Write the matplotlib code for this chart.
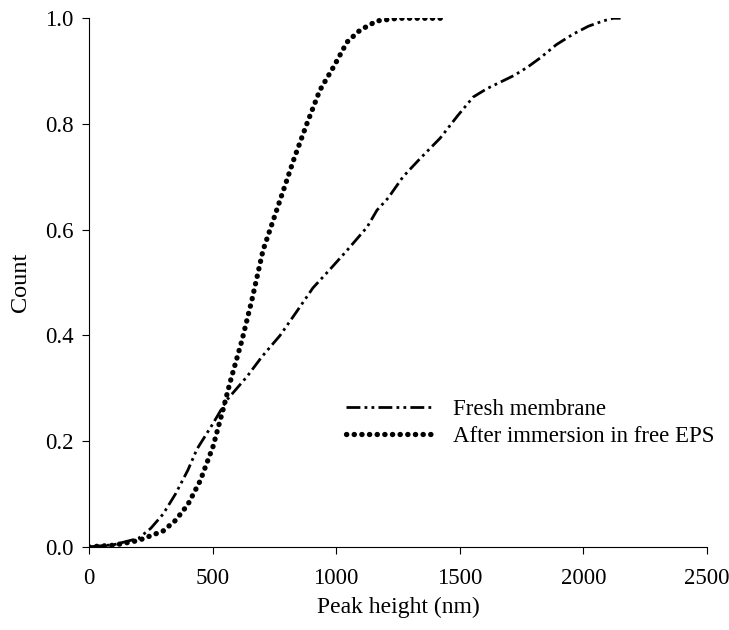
import matplotlib
matplotlib.use("Agg")
import matplotlib.pyplot as plt
import numpy as np

plt.rcParams['font.family'] = ['Liberation Serif', 'DejaVu Serif']

fresh_x = [0, 100, 200, 250, 300, 350, 400, 437, 500, 558, 639, 700, 773, 840, 906, 975, 1044, 1125, 1165, 1210, 1270, 1340, 1420, 1490, 1554, 1610, 1663, 1720, 1772, 1825, 1890, 1958, 2020, 2080, 2120, 2150]
fresh_y = [0.0, 0.004, 0.016, 0.035, 0.062, 0.10, 0.145, 0.185, 0.232, 0.278, 0.322, 0.36, 0.40, 0.445, 0.49, 0.525, 0.561, 0.605, 0.637, 0.66, 0.70, 0.735, 0.773, 0.815, 0.851, 0.867, 0.879, 0.892, 0.907, 0.925, 0.95, 0.97, 0.985, 0.995, 1.0, 1.0]

eps_x = [0, 100, 200, 300, 350, 400, 450, 502, 542, 570, 619, 659, 704, 773, 830, 881, 934, 988, 1044, 1090, 1125, 1165, 1250, 1350, 1428]
eps_y = [0.0, 0.003, 0.012, 0.03, 0.05, 0.08, 0.125, 0.19, 0.259, 0.31, 0.391, 0.467, 0.561, 0.656, 0.735, 0.80, 0.864, 0.907, 0.955, 0.975, 0.985, 0.995, 1.0, 1.0, 1.0]

fig = plt.figure(figsize=(7.29, 6.30), dpi=100)
ax = fig.add_axes([0.122, 0.132, 0.848, 0.839])

ax.plot(fresh_x, fresh_y, color='black', lw=2.0,
        linestyle=(0, (5, 1.5, 1, 1.5, 1, 1.5)), label='Fresh membrane')
ax.plot(eps_x, eps_y, color='black', lw=3.8,
        linestyle=(0, (0.05, 1.4)), dash_capstyle='round', label='After immersion in free EPS')

ax.set_xlim(0, 2500)
ax.set_ylim(0, 1.0)
ax.set_xticks(np.arange(0, 2501, 500))
ax.set_yticks(np.arange(0, 1.01, 0.2))
ax.set_yticklabels([f"{v:.1f}" for v in np.arange(0, 1.01, 0.2)])
for s in ['top', 'right']:
    ax.spines[s].set_visible(False)
ax.tick_params(direction='out', length=5, labelsize=16.5)
ax.tick_params(axis='x', pad=10)
ax.tick_params(axis='y', pad=6)
ax.set_xlabel('Peak height (nm)', fontsize=17, labelpad=6)
ax.set_ylabel('Count', fontsize=17.5, labelpad=10)

leg = ax.legend(loc='upper left', bbox_to_anchor=(0.383, 0.318), frameon=False,
                fontsize=16.5, handlelength=3.7, handletextpad=0.95, labelspacing=0.25)

fig.savefig('out.png', dpi=100)
